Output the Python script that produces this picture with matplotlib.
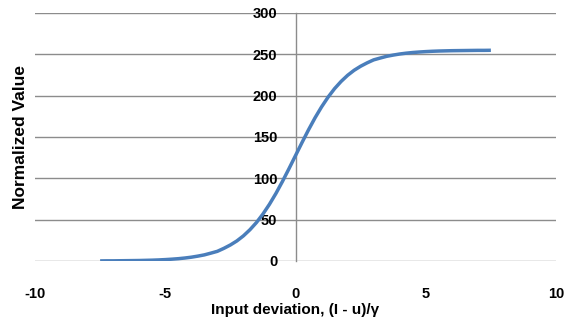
import matplotlib
matplotlib.use("Agg")
import matplotlib.pyplot as plt

x_values = [-7.5, -7.25, -7.0, -6.75, -6.5, -6.25, -6.0, -5.75, -5.5, -5.25,
            -5.0, -4.75, -4.5, -4.25, -4.0, -3.75, -3.5, -3.25, -3.0, -2.75,
            -2.5, -2.25, -2.0, -1.75, -1.5, -1.25, -1.0, -0.75, -0.5, -0.25,
            0.0, 0.25, 0.5, 0.75, 1.0, 1.25, 1.5, 1.75, 2.0, 2.25, 2.5, 2.75,
            3.0, 3.25, 3.5, 3.75, 4.0, 4.25, 4.5, 4.75, 5.0, 5.25, 5.5, 5.75,
            6.0, 6.25, 6.5, 6.75, 7.0, 7.25, 7.5]
y_values = [0.1, 0.2, 0.2, 0.3, 0.4, 0.5, 0.6, 0.8, 1.0, 1.3,
            1.7, 2.2, 2.8, 3.6, 4.6, 5.9, 7.4, 9.5, 11.7, 15.3,
            19.4, 24.3, 30.4, 37.8, 46.5, 56.8, 68.6, 81.8, 96.3, 111.7,
            127.5, 143.3, 158.7, 173.2, 186.4, 198.2, 208.5, 217.2, 224.6, 230.7, 235.6, 239.7,
            243.3, 245.5, 247.6, 249.1, 250.4, 251.4, 252.2, 252.8, 253.3, 253.7, 254.0, 254.2,
            254.4, 254.5, 254.6, 254.7, 254.8, 254.8, 254.9]
x_ticks = [-10, -5, 0, 5, 10]
y_ticks = [0, 50, 100, 150, 200, 250, 300]

plt.rcParams['font.family'] = ['Liberation Sans', 'DejaVu Sans']
plt.rcParams['axes.unicode_minus'] = False

fig = plt.figure(figsize=(5.73, 3.25), dpi=100)
ax = fig.add_axes([35/573, 64/325, 521/573, 248/325])

ax.plot(x_values, y_values, color='#4A7EBB', lw=2.5, solid_capstyle='butt',
        solid_joinstyle='round', zorder=3)

ax.set_xlim(-10, 10)
ax.set_ylim(0, 300)
ax.set_xticks(x_ticks)
ax.set_yticks(y_ticks)

grid_c = '#8C8C8C'
ax.yaxis.grid(True, color=grid_c, lw=1.0)
ax.xaxis.grid(False)
ax.set_axisbelow(True)
for gl in ax.get_ygridlines():
    gl.set_clip_on(False)

for s in ['top', 'right', 'bottom']:
    ax.spines[s].set_visible(False)
ax.spines['left'].set_position(('data', 0))
ax.spines['left'].set_color(grid_c)
ax.spines['left'].set_linewidth(1.0)

ax.tick_params(axis='both', length=0)
ax.tick_params(axis='y', pad=13)
ax.tick_params(axis='x', pad=19)
for lab in ax.get_xticklabels() + ax.get_yticklabels():
    lab.set_fontweight('bold')
    lab.set_fontsize(10.5)

ax.set_ylabel('Normalized Value', fontweight='bold', fontsize=12.5)
ax.yaxis.set_label_coords(-0.013, 0.5)
ax.set_xlabel('Input deviation, (I - u)/γ', fontweight='bold', fontsize=11,
              labelpad=1)

fig.savefig('out.png', dpi=100)
